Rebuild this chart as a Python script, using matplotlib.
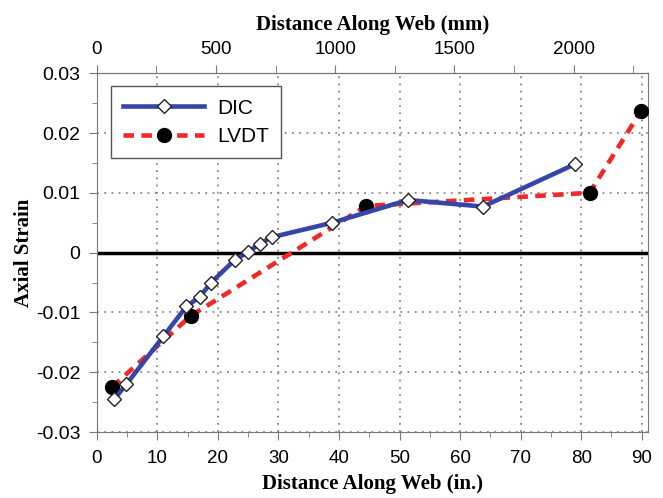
import matplotlib.pyplot as plt
from matplotlib.ticker import MultipleLocator, FixedLocator

# DIC measurements (in., strain)
dic_x = [2.9, 4.9, 11.0, 14.8, 17.0, 18.9, 22.8, 25.0, 26.9, 29.0, 38.9, 51.4, 63.8, 79.0]
dic_y = [-0.0245, -0.0220, -0.0140, -0.0090, -0.0074, -0.0050, -0.0012, 0.0001,
         0.0015, 0.0026, 0.0050, 0.0088, 0.0077, 0.0148]

# LVDT measurements (in., strain)
lvdt_x = [2.5, 15.5, 44.5, 81.4, 89.9]
lvdt_y = [-0.0225, -0.0106, 0.0078, 0.0100, 0.0237]

x_ticks = list(range(0, 91, 10))
y_ticks = [-0.03, -0.02, -0.01, 0, 0.01, 0.02, 0.03]
y_labels = ["-0.03", "-0.02", "-0.01", "0", "0.01", "0.02", "0.03"]
mm_ticks = [0, 500, 1000, 1500, 2000]

sans = ["Liberation Sans", "DejaVu Sans"]
serif = ["Liberation Serif", "DejaVu Serif"]

fig = plt.figure(figsize=(6.63, 4.98), dpi=100)
ax = fig.add_axes([0.146, 0.1325, 0.831, 0.7205])

ax.plot(dic_x, dic_y, color="#3545a8", lw=3.3, marker="D", ms=7.5,
        mfc="white", mec="#222222", mew=1.0, label="DIC", zorder=4)
ax.plot(lvdt_x, lvdt_y, color="#f02828", lw=3.3, ls=(0, (2.3, 1.6)), marker="o",
        ms=10, mfc="black", mec="black", label="LVDT", zorder=3)
ax.axhline(0, color="black", lw=2.5, zorder=2)

ax.set_xlim(0, 91)
ax.set_ylim(-0.03, 0.03)
ax.set_xticks(x_ticks)
ax.set_yticks(y_ticks)
ax.set_yticklabels(y_labels)
ax.xaxis.set_minor_locator(MultipleLocator(5))
ax.yaxis.set_minor_locator(MultipleLocator(0.005))
ax.grid(True, which="major", color="#888888", ls=(0, (1, 3)), lw=1.3)
ax.tick_params(which="both", direction="out", color="#777777")
ax.tick_params(which="major", length=6, labelsize=14)
ax.tick_params(which="minor", length=3.5)
ax.tick_params(axis="x", which="major", labelsize=13.5, pad=7)
ax.tick_params(axis="y", which="major", pad=6)
for lab in ax.get_xticklabels() + ax.get_yticklabels():
    lab.set_family(sans)
for sp in ax.spines.values():
    sp.set_color("#777777")

ax.set_xlabel("Distance Along Web (in.)", fontsize=15, fontweight="bold",
              family=serif, labelpad=5)
ax.set_ylabel("Axial Strain", fontsize=15, fontweight="bold", family=serif, labelpad=1)

top = ax.secondary_xaxis("top", functions=(lambda v: v * 25.4, lambda v: v / 25.4))
top.set_xticks(mm_ticks)
top.xaxis.set_minor_locator(FixedLocator([250, 750, 1250, 1750, 2250]))
top.tick_params(which="both", direction="out", color="#777777")
top.tick_params(which="major", length=6, labelsize=13.5, pad=5)
top.tick_params(which="minor", length=6)
for lab in top.get_xticklabels():
    lab.set_family(sans)
top.spines["top"].set_color("#777777")
top.set_xlabel("Distance Along Web (mm)", fontsize=15, fontweight="bold",
               family=serif, labelpad=8)

leg = ax.legend(loc="upper left", bbox_to_anchor=(0.025, 0.964), borderaxespad=0,
                handlelength=3.9, handletextpad=0.6,
                prop={"family": sans, "size": 15}, fancybox=False, framealpha=1,
                edgecolor="#555555", borderpad=0.6, labelspacing=0.45)
leg.get_frame().set_linewidth(1.0)

fig.savefig("out.png", dpi=100)
